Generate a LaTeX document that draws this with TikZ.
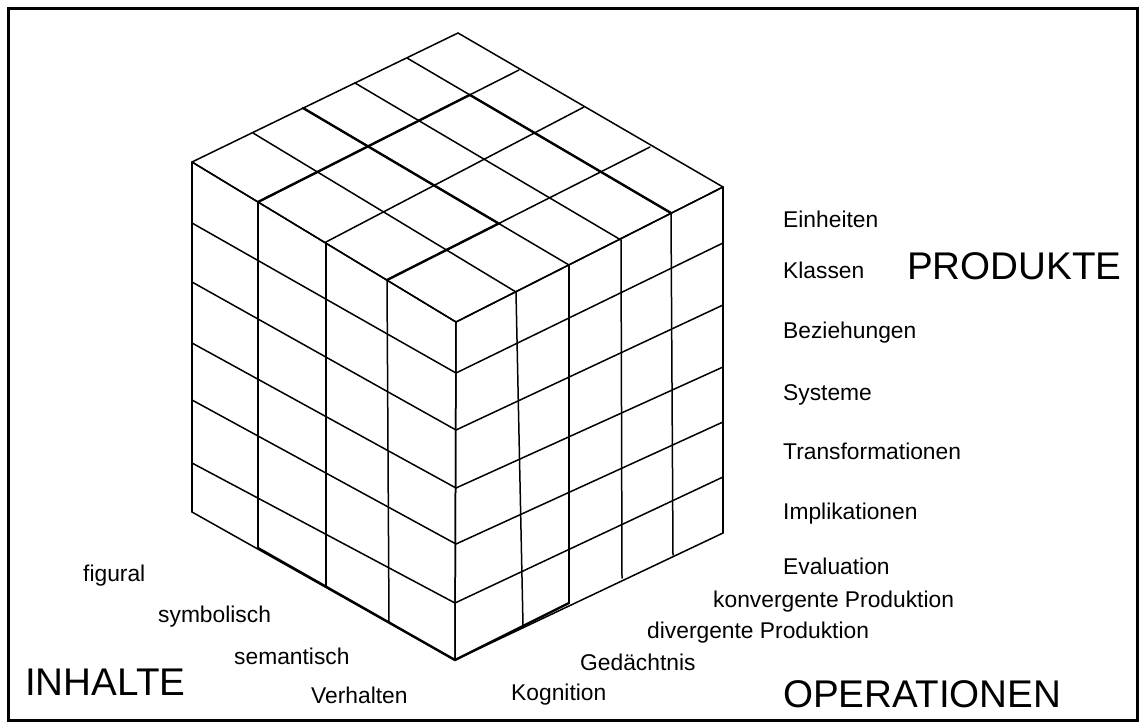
\documentclass[tikz,border=0pt]{standalone}
\usepackage{fontspec}
\setmainfont{Liberation Sans}
\usetikzlibrary{calc,intersections}
\begin{document}
\begin{tikzpicture}[x=1pt,y=-1pt,
  grid/.style={line width=1.5pt,line join=round,line cap=round},
  heavy/.style={line width=2.4pt,line cap=round},
  small/.style={anchor=base west,inner sep=0pt,font=\fontsize{22.8}{26}\selectfont},
  big/.style={anchor=base west,inner sep=0pt,font=\fontsize{38.6}{43}\selectfont}]
\useasboundingbox (0,0) rectangle (1143,726);
\draw[line width=3pt] (8,8) rectangle (1137,720);

% left face (Inhalte): 4 columns, 6 rows
\coordinate (TL0) at (192,162); \coordinate (TL1) at (258,202);
\coordinate (TL2) at (326,242); \coordinate (TL3) at (387,280);
\coordinate (TL4) at (456,322);
\coordinate (BL0) at (192,512); \coordinate (BL1) at (258,548);
\coordinate (BL2) at (326,587); \coordinate (BL3) at (389,622);
\coordinate (BL4) at (455,660);
\coordinate (LE0) at (192,162); \coordinate (LE1) at (192,223);
\coordinate (LE2) at (192,282); \coordinate (LE3) at (192,343);
\coordinate (LE4) at (192,400); \coordinate (LE5) at (192,463);
\coordinate (LE6) at (192,512);
\coordinate (FE0) at (456,322); \coordinate (FE1) at (456,373);
\coordinate (FE2) at (456,430); \coordinate (FE3) at (456,488);
\coordinate (FE4) at (456,544); \coordinate (FE5) at (455,603);
\coordinate (FE6) at (455,660);

% right face (Operationen): 5 columns, 6 rows
\coordinate (TR0) at (456,322); \coordinate (TR1) at (516,292);
\coordinate (TR2) at (569,265); \coordinate (TR3) at (621,240);
\coordinate (TR4) at (671,213); \coordinate (TR5) at (723,187);
\coordinate (BR0) at (455,660); \coordinate (BR1) at (523,625);
\coordinate (BR2) at (569,603); \coordinate (BR3) at (622,578);
\coordinate (BR4) at (673,555); \coordinate (BR5) at (723,533);
\coordinate (RE0) at (723,187); \coordinate (RE1) at (723,243);
\coordinate (RE2) at (723,305); \coordinate (RE3) at (723,367);
\coordinate (RE4) at (723,422); \coordinate (RE5) at (723,477);
\coordinate (RE6) at (723,533);

% top face: 5 x 4 cells
\coordinate (A0) at (192,162); \coordinate (A1) at (253,133);
\coordinate (A2) at (303,108); \coordinate (A3) at (355,83);
\coordinate (A4) at (407,58);  \coordinate (A5) at (458,33);
\coordinate (C0) at (458,33);  \coordinate (C1) at (519,70);
\coordinate (C2) at (584,107); \coordinate (C3) at (650,147);
\coordinate (C4) at (723,187);

\foreach \i in {0,...,4} \draw[grid] (TL\i) -- (BL\i);
\foreach \j in {0,...,6} \draw[grid] (LE\j) -- (FE\j);
\foreach \i in {0,...,5} \draw[grid] (TR\i) -- (BR\i);
\foreach \j in {0,...,6} \draw[grid] (FE\j) -- (RE\j);
\foreach \k in {0,...,5} \draw[grid] (A\k) -- (TR\k);
\foreach \i in {0,...,4} \draw[grid] (C\i) -- (TL\i);

% heavier strokes on the top face and along the bottom edges
\coordinate (P) at (intersection of TL1--C1 and A4--TR4);
\coordinate (Q) at (intersection of TL3--C3 and A2--TR2);
\draw[heavy] (TL1) -- (P) -- (TR4);
\draw[heavy] (A2) -- (Q) -- (TL3);
\draw[heavy] (BL1) -- (BL4) -- (BR2);

% Produkte
\node[small] (einh) at (783,227) {Einheiten};
\node[small] (klas) at (783,278) {Klassen};
\node[small] (bezi) at (783,338) {Beziehungen};
\node[small] (syst) at (783,400) {Systeme};
\node[small] (tran) at (783,459) {Transformationen};
\node[small] (impl) at (783,519) {Implikationen};
\node[big] (prod) at (907,279) {PRODUKTE};

% Operationen
\node[small] (eval) at (783,574) {Evaluation};
\node[small] (konv) at (713,607) {konvergente Produktion};
\node[small] (divg) at (647,638) {divergente Produktion};
\node[small] (geda) at (580,670) {Gedächtnis};
\node[small] (kogn) at (511,700) {Kognition};
\node[big] (oper) at (783,707) {OPERATIONEN};

% Inhalte
\node[small] (figu) at (83,581) {figural};
\node[small] (symb) at (158,622) {symbolisch};
\node[small] (sema) at (234,664) {semantisch};
\node[small] (verh) at (311,703) {Verhalten};
\node[big] (inha) at (25,695) {INHALTE};
\end{tikzpicture}
\end{document}
